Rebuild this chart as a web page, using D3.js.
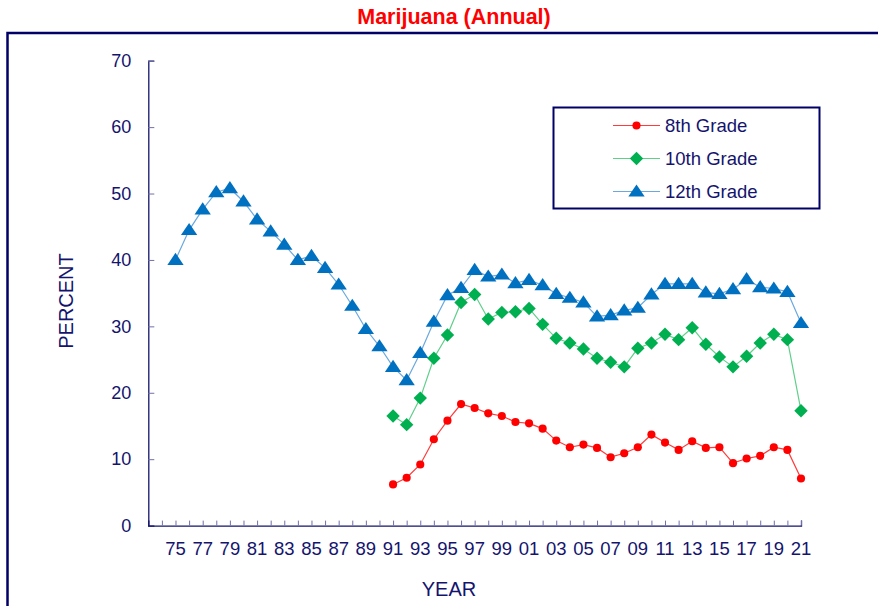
<!doctype HTML>
<html lang='en'>

<head>
	<meta charset='utf-8'>
	<title>Marijuana (Annual)</title>

	<script src='https://d3js.org/d3.v7.min.js'></script>

	<style>
		html,
		body {
			margin: 0;
			padding: 0;
			background: #fff;
			font-family: 'Liberation Sans', Arial, helvetica, sans-serif;
		}
	</style>
</head>

<body>
	<div id='container'></div>
</body>

	<script>
		// Data
		const years = d3.range(1975, 2022);
		const yearsHS = d3.range(1991, 2022);

		const grade12 = [40.0, 44.5, 47.6, 50.2, 50.8, 48.8, 46.1, 44.3, 42.3, 40.0,
			40.6, 38.8, 36.3, 33.1, 29.6, 27.0, 23.9, 21.9, 26.0, 30.7,
			34.7, 35.8, 38.5, 37.5, 37.8, 36.5, 37.0, 36.2, 34.9, 34.3,
			33.6, 31.5, 31.7, 32.4, 32.8, 34.8, 36.4, 36.4, 36.4, 35.1,
			34.9, 35.6, 37.1, 35.9, 35.7, 35.2, 30.5];
		const grade10 = [16.5, 15.2, 19.2, 25.2, 28.7, 33.6, 34.8, 31.1, 32.1, 32.2,
			32.7, 30.3, 28.2, 27.5, 26.6, 25.2, 24.6, 23.9, 26.7, 27.5,
			28.8, 28.0, 29.8, 27.3, 25.4, 23.9, 25.5, 27.5, 28.8, 28.0, 17.3];
		const grade8 = [6.2, 7.2, 9.2, 13.0, 15.8, 18.3, 17.7, 16.9, 16.5, 15.6,
			15.4, 14.6, 12.8, 11.8, 12.2, 11.7, 10.3, 10.9, 11.8, 13.7,
			12.5, 11.4, 12.7, 11.7, 11.8, 9.4, 10.1, 10.5, 11.8, 11.4, 7.1];

		const yTicks = [0, 10, 20, 30, 40, 50, 60, 70];
		const xLabelYears = d3.range(1975, 2022, 2);

		const W = 878, H = 606;
		const navy = '#14146e';

		const series = [
			{name: '8th Grade', x: yearsHS, v: grade8, color: '#ff0000', line: '#ff3b3b', shape: 'circle'},
			{name: '10th Grade', x: yearsHS, v: grade10, color: '#00b050', line: '#5fcf8a', shape: 'diamond'},
			{name: '12th Grade', x: years, v: grade12, color: '#0070c0', line: '#6aa8de', shape: 'triangle'}
		];

		// Scales
		const x = d3.scaleLinear()
			.domain([1973, 2021])
			.range([148.3, 801]);
		const y = d3.scaleLinear()
			.domain([0, 70])
			.range([525.6, 60.7]);

		// Canvas
		const svg = d3.select('#container').append('svg')
			.attr('width', W)
			.attr('height', H);

		// Outer frame
		svg.append('rect')
			.attr('x', 7.5)
			.attr('y', 33)
			.attr('width', W + 20)
			.attr('height', H)
			.attr('fill', 'none')
			.attr('stroke', '#000066')
			.attr('stroke-width', 2.5);

		// Title
		svg.append('text')
			.attr('x', 454)
			.attr('y', 24)
			.attr('text-anchor', 'middle')
			.attr('font-size', 21.5)
			.attr('font-weight', 'bold')
			.attr('fill', '#ff0000')
			.text('Marijuana (Annual)');

		// Y axis
		const yAxis = svg.append('g')
			.attr('transform', 'translate(' + x.range()[0] + ',0)')
			.call(d3.axisRight(y).tickValues(yTicks).tickSize(6).tickFormat(d3.format('d')));
		yAxis.select('.domain').attr('stroke', navy).attr('stroke-width', 1.3);
		yAxis.selectAll('.tick line').attr('stroke', '#7070a8');
		yAxis.selectAll('.tick text')
			.attr('x', -17)
			.attr('text-anchor', 'end')
			.attr('font-size', 18)
			.attr('font-family', 'Liberation Sans, Arial, sans-serif')
			.attr('fill', navy);

		// X axis
		const xAxis = svg.append('g')
			.attr('transform', 'translate(0,' + y(0) + ')')
			.call(d3.axisTop(x).tickValues(d3.range(1974, 2022)).tickSize(5).tickFormat(''));
		xAxis.select('.domain').attr('stroke', navy).attr('stroke-width', 1.3);
		xAxis.selectAll('.tick line').attr('stroke', '#7070a8');

		svg.append('g')
			.selectAll('text')
			.data(xLabelYears)
			.enter()
			.append('text')
			.attr('x', (d) => { return x(d); })
			.attr('y', 555)
			.attr('text-anchor', 'middle')
			.attr('font-size', 18.5)
			.attr('fill', navy)
			.text((d) => { return String(d).slice(2); });

		// Axis titles
		svg.append('text')
			.attr('x', 449)
			.attr('y', 596)
			.attr('text-anchor', 'middle')
			.attr('font-size', 20)
			.attr('fill', navy)
			.text('YEAR');

		svg.append('text')
			.attr('transform', 'translate(73,301) rotate(-90)')
			.attr('text-anchor', 'middle')
			.attr('font-size', 20)
			.attr('fill', navy)
			.text('PERCENT');

		// Markers
		const symbols = {
			circle: d3.symbol().type(d3.symbolCircle).size(52),
			diamond: d3.symbol().type(d3.symbolSquare).size(90),
			triangle: d3.symbol().type(d3.symbolTriangle).size(95)
		};
		const shapeTransform = (shape, px, py) => {
			if (shape === 'diamond') return 'translate(' + px + ',' + py + ') rotate(45)';
			if (shape === 'triangle') return 'translate(' + px + ',' + (py + 1) + ') scale(1.1,0.95)';
			return 'translate(' + px + ',' + py + ')';
		};

		const line = d3.line()
			.x((d) => { return x(d[0]); })
			.y((d) => { return y(d[1]); });

		// Draw 12th first so younger grades sit on top
		series.slice().reverse().forEach((s) => {
			const pts = s.x.map((yr, i) => { return [yr, s.v[i]]; });
			const g = svg.append('g');

			g.append('path')
				.datum(pts)
				.attr('d', line)
				.attr('fill', 'none')
				.attr('stroke', s.line)
				.attr('stroke-width', 1.2);

			g.selectAll('path.pt')
				.data(pts)
				.enter()
				.append('path')
				.attr('class', 'pt')
				.attr('d', symbols[s.shape])
				.attr('transform', (d) => { return shapeTransform(s.shape, x(d[0]), y(d[1])); })
				.attr('fill', s.color);
		});

		// Legend
		const legend = svg.append('g');
		legend.append('rect')
			.attr('x', 553.5)
			.attr('y', 107.5)
			.attr('width', 266)
			.attr('height', 101)
			.attr('fill', '#fff')
			.attr('stroke', '#000066')
			.attr('stroke-width', 2);

		const rows = legend.selectAll('.legend')
			.data(series)
			.enter()
			.append('g')
			.attr('class', 'legend')
			.attr('transform', (d, i) => { return 'translate(0,' + (125.5 + i * 33) + ')'; });

		rows.append('line')
			.attr('x1', 613)
			.attr('x2', 660)
			.attr('stroke', (d) => { return d.line; })
			.attr('stroke-width', 1.2);

		rows.append('path')
			.attr('d', (d) => { return symbols[d.shape](); })
			.attr('transform', (d) => { return shapeTransform(d.shape, 636.5, 0); })
			.attr('fill', (d) => { return d.color; });

		rows.append('text')
			.attr('x', 665)
			.attr('y', 6.5)
			.attr('font-size', 18.5)
			.attr('fill', navy)
			.text((d) => { return d.name; });
	</script>

</html>
